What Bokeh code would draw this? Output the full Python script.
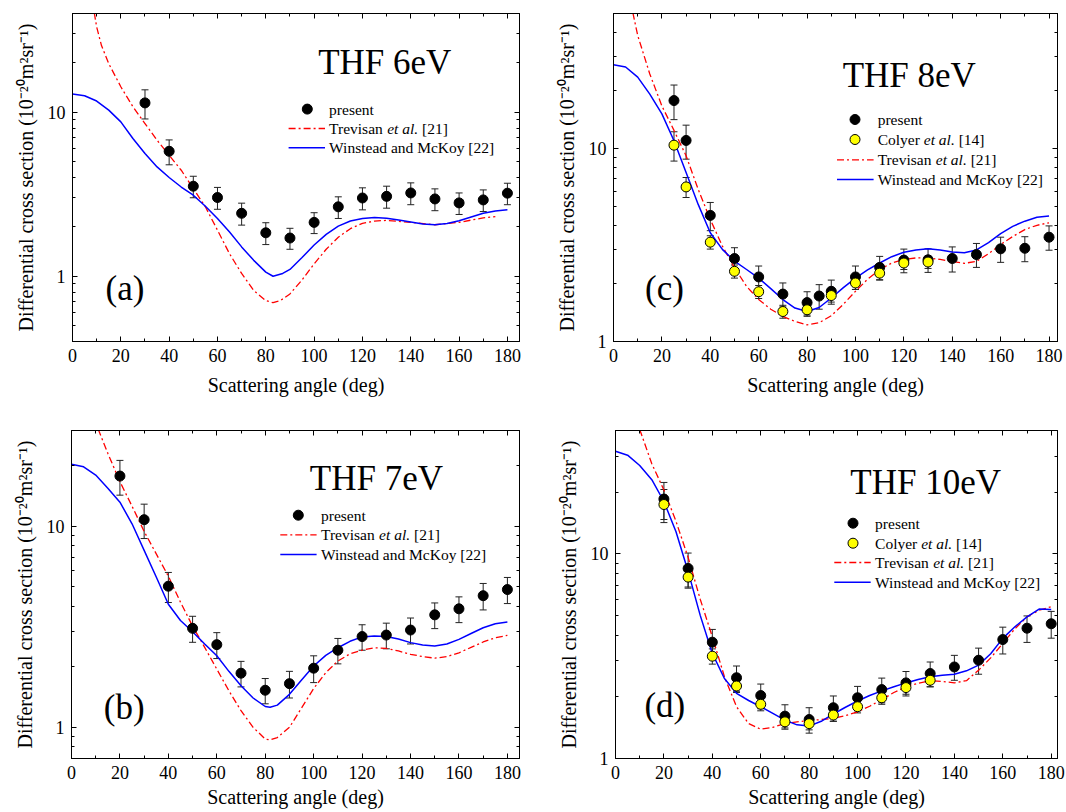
from bokeh.plotting import figure
from bokeh.models import (Range1d, LinearAxis, LogAxis, FixedTicker, Whisker, TeeHead,
                          ColumnDataSource, Label, LinearScale, CustomJSTickFormatter,
                          NumeralTickFormatter)
from bokeh.layouts import column, row
from bokeh.embed import file_html
from bokeh.resources import INLINE

FONT = "Liberation Serif"

# ---------------- data: (a) THF 6 eV ----------------
a_ang = [30, 40, 50, 60, 70, 80, 90, 100, 110, 120, 130, 140, 150, 160, 170, 180]
a_dcs = [11.4, 5.78, 3.54, 3.02, 2.42, 1.84, 1.71, 2.13, 2.65, 3.00, 3.07, 3.22, 2.96, 2.80, 2.92, 3.21]
a_err = [2.3, 1.0, 0.53, 0.46, 0.37, 0.28, 0.25, 0.31, 0.40, 0.46, 0.47, 0.49, 0.45, 0.42, 0.44, 0.48]
a_trev_ang = [9, 10, 12, 15, 20, 25, 30, 35, 40, 45, 50, 55, 60, 65, 70, 75, 80, 83, 86,
              90, 95, 100, 105, 110, 115, 120, 125, 130, 140, 150, 160, 170, 175]
a_trev = [40.5, 33.1, 25.5, 19.8, 14.3, 10.8, 8.53, 6.75, 5.47, 4.43, 3.42, 2.65, 1.91, 1.37, 1.04, 0.82, 0.71, 0.69, 0.71,
          0.78, 0.95, 1.19, 1.46, 1.73, 1.95, 2.10, 2.17, 2.19, 2.13, 2.06, 2.13, 2.27, 2.31]
a_win_ang = [0, 5, 10, 15, 20, 25, 30, 35, 40, 45, 50, 55, 60, 65, 70, 75, 80, 83, 87,
             90, 95, 100, 105, 110, 115, 120, 125, 130, 135, 140, 145, 150, 155, 160, 165, 170, 175, 180]
a_win = [12.9, 12.6, 11.7, 10.3, 8.73, 6.91, 5.6, 4.64, 4.0, 3.5, 3.12, 2.67, 2.25, 1.86, 1.51, 1.25, 1.06, 1.0, 1.04,
         1.1, 1.3, 1.55, 1.8, 2.02, 2.17, 2.25, 2.28, 2.26, 2.2, 2.14, 2.08, 2.06, 2.1, 2.18, 2.3, 2.42, 2.5, 2.54]

# ---------------- data: (b) THF 7 eV ----------------
b_ang = [20, 30, 40, 50, 60, 70, 80, 90, 100, 110, 120, 130, 140, 150, 160, 170, 180]
b_dcs = [17.8, 10.8, 5.04, 3.11, 2.58, 1.86, 1.53, 1.65, 1.97, 2.42, 2.83, 2.88, 3.05, 3.63, 3.89, 4.52, 4.85]
b_err = [3.5, 2.1, 0.86, 0.46, 0.38, 0.27, 0.22, 0.25, 0.30, 0.35, 0.41, 0.42, 0.45, 0.53, 0.57, 0.68, 0.72]
b_trev_ang = [11, 15, 20, 25, 30, 35, 40, 45, 50, 55, 60, 65, 70, 75, 80, 82, 85,
              90, 95, 100, 105, 110, 115, 120, 125, 130, 135, 140, 145, 150, 155, 160, 165, 170, 175, 180]
b_trev = [30.5, 23.1, 16.7, 12.6, 9.44, 7.3, 5.65, 4.2, 3.19, 2.5, 1.95, 1.52, 1.21, 1.0, 0.875, 0.866, 0.89,
          1.0, 1.25, 1.56, 1.87, 2.14, 2.32, 2.42, 2.49, 2.47, 2.4, 2.31, 2.25, 2.21, 2.25, 2.35, 2.5, 2.66, 2.79, 2.87]
b_win_ang = [0, 5, 10, 15, 20, 25, 30, 35, 40, 45, 50, 55, 60, 65, 70, 75, 80, 82, 85,
             90, 95, 100, 105, 110, 115, 120, 125, 130, 135, 140, 145, 150, 155, 160, 165, 170, 175, 180]
b_win = [20.4, 19.8, 18.0, 15.5, 13.2, 10.3, 7.6, 5.6, 4.1, 3.4, 2.99, 2.6, 2.27, 1.9, 1.61, 1.4, 1.27, 1.26, 1.29,
         1.46, 1.72, 2.02, 2.28, 2.49, 2.68, 2.82, 2.85, 2.83, 2.75, 2.64, 2.57, 2.54, 2.6, 2.74, 2.93, 3.13, 3.28, 3.34]

# ---------------- data: (c) THF 8 eV ----------------
c_ang = [25, 30, 40, 50, 60, 70, 80, 85, 90, 100, 110, 120, 130, 140, 150, 160, 170, 180]
c_dcs = [17.7, 11.0, 4.5, 2.69, 2.16, 1.76, 1.59, 1.72, 1.82, 2.16, 2.42, 2.64, 2.65, 2.69, 2.82, 3.02, 3.04, 3.47]
c_err = [3.6, 2.2, 0.75, 0.37, 0.30, 0.25, 0.22, 0.25, 0.26, 0.30, 0.34, 0.37, 0.37, 0.40, 0.40, 0.45, 0.45, 0.50]
c_col_ang = [25, 30, 40, 50, 60, 70, 80, 90, 100, 110, 120, 130]
c_col = [10.4, 6.32, 3.27, 2.31, 1.81, 1.43, 1.46, 1.73, 2.01, 2.26, 2.55, 2.58]
c_col_err = [1.8, 0.75, 0.26, 0.18, 0.14, 0.11, 0.11, 0.13, 0.15, 0.17, 0.19, 0.19]
c_trev_ang = [8, 10, 15, 20, 25, 30, 35, 40, 45, 50, 55, 60, 65, 70, 75, 80, 85, 90, 95, 100,
              105, 110, 115, 120, 125, 130, 135, 140, 145, 150, 155, 160, 165, 170, 175, 180]
c_trev = [50.5, 38.5, 24.3, 16.6, 12.4, 9.16, 6.14, 4.29, 3.12, 2.41, 1.93, 1.65, 1.47, 1.35, 1.27, 1.22, 1.25, 1.36, 1.56, 1.82,
          2.1, 2.36, 2.55, 2.66, 2.71, 2.71, 2.66, 2.6, 2.54, 2.6, 2.85, 3.18, 3.5, 3.8, 4.0, 4.12]
c_win_ang = [0, 5, 10, 15, 20, 25, 30, 35, 40, 45, 50, 55, 60, 65, 70, 75, 80, 85, 90, 95,
             100, 105, 110, 115, 120, 125, 130, 135, 140, 145, 150, 155, 160, 165, 170, 175, 180]
c_win = [27.1, 26.4, 23.4, 19.1, 15.1, 10.96, 7.5, 5.13, 3.66, 3.0, 2.61, 2.36, 2.13, 1.88, 1.65, 1.49, 1.43, 1.5, 1.68, 1.9,
         2.13, 2.35, 2.55, 2.75, 2.9, 2.98, 3.02, 2.98, 2.91, 2.88, 2.98, 3.25, 3.62, 3.95, 4.2, 4.4, 4.47]

# ---------------- data: (d) THF 10 eV ----------------
d_ang = [20, 30, 40, 50, 60, 70, 80, 90, 100, 110, 120, 130, 140, 150, 160, 170, 180]
d_dcs = [18.5, 8.48, 3.7, 2.48, 2.03, 1.61, 1.55, 1.77, 1.98, 2.17, 2.34, 2.6, 2.8, 3.02, 3.81, 4.33, 4.55]
d_err = [3.8, 1.6, 0.57, 0.35, 0.28, 0.22, 0.22, 0.25, 0.27, 0.30, 0.32, 0.36, 0.39, 0.44, 0.57, 0.64, 0.68]
d_col_ang = [20, 30, 40, 50, 60, 70, 80, 90, 100, 110, 120, 130]
d_col = [17.4, 7.69, 3.16, 2.26, 1.84, 1.51, 1.48, 1.63, 1.79, 1.98, 2.22, 2.41]
d_col_err = [3.2, 0.9, 0.27, 0.16, 0.13, 0.10, 0.10, 0.11, 0.12, 0.14, 0.16, 0.17]
d_trev_ang = [10, 15, 20, 25, 30, 35, 40, 45, 50, 55, 60, 65, 70, 75, 80, 85, 90, 95, 100,
              105, 110, 115, 120, 125, 130, 135, 140, 145, 150, 155, 160, 165, 170, 175, 180]
d_trev = [40.5, 27.5, 20.5, 14.4, 9.6, 6.0, 3.93, 2.51, 1.79, 1.48, 1.39, 1.42, 1.48, 1.51, 1.53, 1.55, 1.57, 1.62, 1.69,
          1.8, 1.94, 2.1, 2.24, 2.33, 2.4, 2.38, 2.34, 2.4, 2.7, 3.1, 3.65, 4.3, 4.92, 5.3, 5.51]
d_win_ang = [0, 5, 10, 15, 20, 25, 30, 35, 40, 45, 50, 55, 60, 65, 70, 75, 80, 85, 90, 95,
             100, 105, 110, 115, 120, 125, 130, 135, 140, 145, 150, 155, 160, 165, 170, 175, 180]
d_win = [31.7, 30.3, 27.0, 23.0, 18.0, 12.8, 8.2, 5.0, 3.26, 2.46, 2.08, 1.92, 1.79, 1.66, 1.54, 1.46, 1.44, 1.52, 1.65, 1.78,
         1.91, 2.03, 2.14, 2.24, 2.34, 2.43, 2.51, 2.55, 2.58, 2.68, 2.86, 3.25, 3.86, 4.4, 4.92, 5.37, 5.35]

x_major = [0, 20, 40, 60, 80, 100, 120, 140, 160, 180]
x_minor = [10, 30, 50, 70, 90, 110, 130, 150, 170]
y_major = [1, 10]
y_minor = [0.2, 0.3, 0.4, 0.5, 0.6, 0.7, 0.8, 0.9, 2, 3, 4, 5, 6, 7, 8, 9, 20, 30, 40, 50, 60, 70, 80, 90]

XLABEL = "Scattering angle (deg)"
YLABEL = "Differential cross section (10\u207b\u00b2\u2070m\u00b2sr\u207b\u00b9)"

# Times/Liberation Serif advance widths (1/1000 em) for positioning mixed-style legend text
W_REG = {' ': 250, 'T': 611, 'r': 333, 'e': 444, 'v': 500, 'i': 278, 's': 389, 'a': 444, 'n': 500,
         'C': 667, 'o': 500, 'l': 278, 'y': 500}
W_IT = {'e': 444, 't': 278, ' ': 250, 'a': 500, 'l': 278, '.': 250}


def tw(s, table, size):
    return sum(table[c] for c in s) / 1000.0 * size


RED = "#ff0000"
BLUE = "#0000ff"
YEL = "#ffff00"
LEG_FS = 15.5

panels = [
    dict(key="a", title="THF 6eV", tag="(a)", W=533, H=406, bl=72, br=14, bt=13, bb=65, xmax=185, ymin=0.4, ymax=40,
         lstand=7, astand=9,
         ang=a_ang, dcs=a_dcs, err=a_err, col=None, trev=(a_trev_ang, a_trev), win=(a_win_ang, a_win),
         tpos=(245.7, 49.4), tagpos=(33, 274.5), mx=234.8, tx=256.6, lx=(216.1, 252.5), rows=[95.6, 115, 134.3]),
    dict(key="c", title="THF 8eV", tag="(c)", W=533, H=406, bl=80, br=9, bt=13, bb=65, xmax=183.5, ymin=1, ymax=50,
         lstand=7, astand=9,
         ang=c_ang, dcs=c_dcs, err=c_err, col=(c_col_ang, c_col, c_col_err), trev=(c_trev_ang, c_trev), win=(c_win_ang, c_win),
         tpos=(229.2, 62.3), tagpos=(31.6, 274.7), mx=241.5, tx=264.2, lx=(223.5, 260.1), rows=[106, 126, 146.3, 166]),
    dict(key="b", title="THF 7eV", tag="(b)", W=533, H=406, bl=71, br=14, bt=24, bb=54, xmax=185, ymin=0.7, ymax=30,
         lstand=7, astand=4,
         ang=b_ang, dcs=b_dcs, err=b_err, col=None, trev=(b_trev_ang, b_trev), win=(b_win_ang, b_win),
         tpos=(238.3, 48.2), tagpos=(32.3, 277), mx=226.8, tx=249.5, lx=(208.8, 245.1), rows=[84.7, 104.3, 124]),
    dict(key="d", title="THF  10eV", tag="(d)", W=533, H=406, bl=82, br=9, bt=24, bb=54, xmax=182.6, ymin=1, ymax=40,
         lstand=7, astand=4,
         ang=d_ang, dcs=d_dcs, err=d_err, col=(d_col_ang, d_col, d_col_err), trev=(d_trev_ang, d_trev), win=(d_win_ang, d_win),
         tpos=(234.8, 51.5), tagpos=(28.9, 274.7), mx=237.5, tx=259.6, lx=(218.8, 255.2), rows=[92.7, 112.7, 132, 151.7]),
]


def style_axis(ax, labels=True):
    ax.major_tick_in = 5
    ax.major_tick_out = 0
    ax.minor_tick_in = 3
    ax.minor_tick_out = 0
    ax.axis_line_color = "black"
    ax.major_tick_line_color = "black"
    ax.minor_tick_line_color = "black"
    ax.axis_line_width = 1
    if labels:
        ax.major_label_text_font = FONT
        ax.major_label_text_font_size = "18px"
        ax.major_label_text_color = "black"
        ax.axis_label_text_font = FONT
        ax.axis_label_text_font_size = "20px"
        ax.axis_label_text_font_style = "normal"
        ax.axis_label_text_color = "black"
    else:
        ax.major_label_text_font_size = "0px"
        ax.major_label_standoff = 0
        ax.formatter = CustomJSTickFormatter(code="return ''")


def txt(p, x, y, s, size, style="normal"):
    p.add_layout(Label(x=x, y=y, x_range_name="px", y_range_name="px", text=s,
                       text_font=FONT, text_font_size=f"{size}px", text_font_style=style,
                       text_color="black", text_align="left", text_baseline="middle"))


def make_panel(c):
    p = figure(width=c["W"], height=c["H"], x_range=Range1d(0, c["xmax"]),
               y_range=Range1d(c["ymin"], c["ymax"]), y_axis_type="log",
               output_backend="svg", toolbar_location=None,
               min_border_left=c["bl"], min_border_right=c["br"],
               min_border_top=c["bt"], min_border_bottom=c["bb"])
    fw = c["W"] - c["bl"] - c["br"]
    fh = c["H"] - c["bt"] - c["bb"]
    p.extra_x_ranges = {"px": Range1d(0, fw)}
    p.extra_y_ranges = {"px": Range1d(fh, 0)}
    p.extra_x_scales = {"px": LinearScale()}
    p.extra_y_scales = {"px": LinearScale()}
    p.background_fill_color = "white"
    p.border_fill_color = "white"
    p.outline_line_color = "black"
    p.outline_line_width = 1
    p.xgrid.visible = False
    p.ygrid.visible = False

    xt = FixedTicker(ticks=x_major, minor_ticks=x_minor)
    yt = FixedTicker(ticks=y_major, minor_ticks=y_minor)
    p.xaxis.ticker = xt
    p.yaxis.ticker = yt
    p.yaxis.formatter = NumeralTickFormatter(format="0")
    p.xaxis.formatter = NumeralTickFormatter(format="0")
    style_axis(p.xaxis[0])
    style_axis(p.yaxis[0])
    p.xaxis.axis_label = XLABEL
    p.yaxis.axis_label = YLABEL
    p.xaxis.major_label_standoff = c["lstand"]
    p.xaxis.axis_label_standoff = c["astand"]
    p.yaxis.major_label_standoff = 7
    p.yaxis.axis_label_standoff = 8

    top = LinearAxis(ticker=xt)
    style_axis(top, labels=False)
    p.add_layout(top, "above")
    right = LogAxis(ticker=yt)
    style_axis(right, labels=False)
    p.add_layout(right, "right")

    # theory curves
    ta, tv = c["trev"]
    wa, wv = c["win"]
    p.line(ta, tv, line_color=RED, line_width=1.3, line_dash="7 3 2 3")
    p.line(wa, wv, line_color=BLUE, line_width=1.5)

    # present data
    src = ColumnDataSource(dict(x=c["ang"], y=c["dcs"],
                                lo=[v - e for v, e in zip(c["dcs"], c["err"])],
                                hi=[v + e for v, e in zip(c["dcs"], c["err"])]))
    p.scatter("x", "y", source=src, size=10, fill_color="black", line_color="black")
    if c["col"] is not None:
        ca, cv, ce = c["col"]
        csrc = ColumnDataSource(dict(x=ca, y=cv, lo=[v - e for v, e in zip(cv, ce)],
                                     hi=[v + e for v, e in zip(cv, ce)]))
        p.scatter("x", "y", source=csrc, size=10, fill_color=YEL, line_color="black", line_width=1)
        p.add_layout(Whisker(source=csrc, base="x", lower="lo", upper="hi", line_color="#222222", line_width=1,
                             lower_head=TeeHead(size=7, line_color="#222222", line_width=1),
                             upper_head=TeeHead(size=7, line_color="#222222", line_width=1)))
    p.add_layout(Whisker(source=src, base="x", lower="lo", upper="hi", line_color="#222222", line_width=1,
                         lower_head=TeeHead(size=7, line_color="#222222", line_width=1),
                         upper_head=TeeHead(size=7, line_color="#222222", line_width=1)))

    # title and panel tag
    txt(p, c["tpos"][0], c["tpos"][1], c["title"], 35)
    txt(p, c["tagpos"][0], c["tagpos"][1], c["tag"], 35)

    # legend (drawn in frame pixel coordinates)
    rows = list(c["rows"])
    mx, tx, (lx0, lx1) = c["mx"], c["tx"], c["lx"]
    r = rows.pop(0)
    p.scatter([mx], [r], x_range_name="px", y_range_name="px", size=10, fill_color="black", line_color="black")
    txt(p, tx, r, "present", LEG_FS)
    if c["col"] is not None:
        r = rows.pop(0)
        p.scatter([mx], [r], x_range_name="px", y_range_name="px", size=10, fill_color=YEL, line_color="black")
        txt(p, tx, r, "Colyer", LEG_FS)
        x1 = tx + tw("Colyer ", W_REG, LEG_FS)
        txt(p, x1, r, "et al.", LEG_FS, style="italic")
        txt(p, x1 + tw("et al. ", W_IT, LEG_FS), r, "[14]", LEG_FS)
    r = rows.pop(0)
    p.line([lx0, lx1], [r, r], x_range_name="px", y_range_name="px", line_color=RED, line_width=1.3,
           line_dash="7 3 2 3")
    txt(p, tx, r, "Trevisan", LEG_FS)
    x1 = tx + tw("Trevisan ", W_REG, LEG_FS)
    txt(p, x1, r, "et al.", LEG_FS, style="italic")
    txt(p, x1 + tw("et al. ", W_IT, LEG_FS), r, "[21]", LEG_FS)
    r = rows.pop(0)
    p.line([lx0, lx1], [r, r], x_range_name="px", y_range_name="px", line_color=BLUE, line_width=1.5)
    txt(p, tx, r, "Winstead and McKoy [22]", LEG_FS)
    return p


figs = {c["key"]: make_panel(c) for c in panels}
layout = column(row(figs["a"], figs["c"]), row(figs["b"], figs["d"]))

with open("out.html", "w") as f:
    f.write(file_html(layout, INLINE))
